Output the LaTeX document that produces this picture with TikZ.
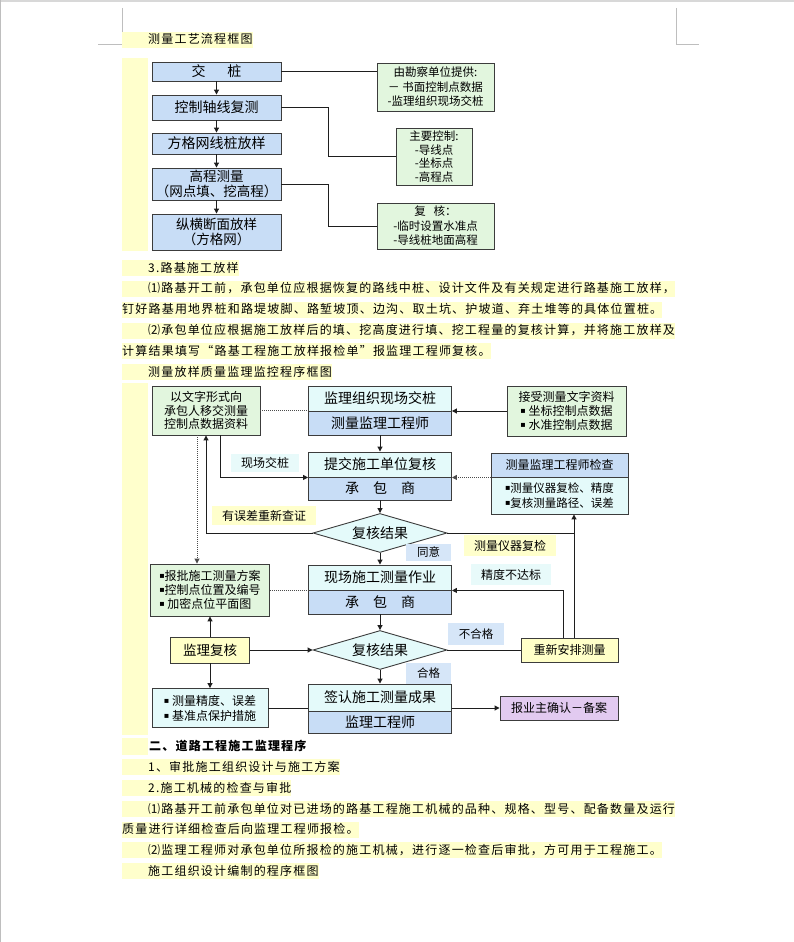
\documentclass[tikz,border=0pt]{standalone}
\usepackage{fontspec}
\setmainfont{Noto Sans CJK SC}
\newfontfamily\para[LetterSpace=10]{Noto Sans CJK SC}
\newfontfamily\sym{DejaVu Sans}
\usetikzlibrary{shapes.geometric,arrows.meta}
\definecolor{hlyel}{RGB}{255,255,204}
\definecolor{boxblue}{RGB}{200,221,246}
\definecolor{boxcyan}{RGB}{228,250,250}
\definecolor{boxgreen}{RGB}{226,246,222}
\definecolor{boxyel}{RGB}{255,255,200}
\definecolor{labblue}{RGB}{214,230,248}
\definecolor{labcyan}{RGB}{232,250,250}
\definecolor{boxpurple}{RGB}{226,202,240}
\definecolor{edge}{RGB}{60,60,60}
\definecolor{wire}{RGB}{30,30,30}
\definecolor{pagegray}{RGB}{190,190,190}
\newcommand{\bul}{\raisebox{2pt}{\sym\fontsize{8}{8}\selectfont ▪}}

\begin{document}
\begin{tikzpicture}[x=1pt,y=-1pt,
    every node/.style={inner sep=0pt},
    wh/.style 2 args={minimum width=#1pt,minimum height=#2pt},
    hl/.style={anchor=west,fill=hlyel,inner ysep=1pt,text height=11pt,text depth=3pt,font=\para\fontsize{12}{14}\selectfont},
    box/.style={draw=edge,line width=0.9pt,align=center},
    bluebox/.style={box,fill=boxblue,font=\fontsize{14}{15}\selectfont},
    cyanbox/.style={box,fill=boxcyan,font=\fontsize{14}{15}\selectfont},
    greenbox/.style={box,fill=boxgreen,font=\fontsize{12}{13.8}\selectfont},
    dia/.style={diamond,draw=edge,line width=0.9pt,fill=boxcyan,aspect=3.4,minimum width=134pt,minimum height=39pt,font=\fontsize{14}{14}\selectfont},
    lab/.style={font=\fontsize{12}{12}\selectfont},
    ln/.style={draw=wire,line width=1pt},
    arr/.style={ln,-{Triangle[length=5pt,width=5pt]}},
    dots/.style={draw=wire!80,line width=0.9pt,dash pattern=on 1pt off 1pt}]
    \useasboundingbox (0,0) rectangle (794,942);
    % page frame
    \draw[pagegray!60,line width=2pt] (0,1) -- (794,1);
    \draw[pagegray,line width=1.2pt] (0.6,0) -- (0.6,942);
    \draw[pagegray,line width=0.8pt] (122,8) -- (122,44) -- (98,44);
    \draw[pagegray,line width=0.8pt] (676,8) -- (676,44) -- (699,44);

    % text above
    \node[hl] (t1) at (122,40) {\hspace*{26pt}测量工艺流程框图};
    \fill[hlyel] (122,58) rectangle (148,251);

    % flow 1
    \node[bluebox,wh={129}{19}] (jz) at (216.5,71.5) {交\hspace{22pt}桩};
    \node[bluebox,wh={129}{25}] (kz) at (216.5,107.5) {控制轴线复测};
    \node[bluebox,wh={129}{21}] (fg) at (216.5,143.5) {方格网线桩放样};
    \node[bluebox,wh={129}{32},font=\fontsize{13.5}{14.5}\selectfont] (gc) at (216.5,184) {高程测量\\（网点填、挖高程）};
    \node[bluebox,wh={129}{36},font=\fontsize{13.5}{15.5}\selectfont] (zh) at (216.5,232) {纵横断面放样\\（方格网）};
    \node[greenbox,wh={117}{48},font=\fontsize{11.5}{14.5}\selectfont] (kc) at (435.5,87) {由勘察单位提供:\\－ 书面控制点数据\\-监理组织现场交桩};
    \node[greenbox,wh={76}{57},font=\fontsize{11.5}{13.5}\selectfont] (zy) at (434,156.5) {主要控制:\\-导线点\\-坐标点\\-高程点};
    \node[greenbox,wh={117}{46},font=\fontsize{11.5}{14.5}\selectfont] (fh) at (435.5,226) {复\hspace{8pt}核：\\-临时设置水准点\\-导线桩地面高程};
    \foreach \a/\b in {jz/kz,kz/fg,fg/gc,gc/zh}
        \draw[arr] (\a) -- (\b);
    \draw[ln] (jz.east) -- (jz.east -| kc.west);
    \draw[ln] (kz.east) -- ++(47,0) |- (zy.west);
    \draw[ln] (gc.east) -- ++(47,0) |- (fh.west);

    % text between
    \node[hl] (p1) at (122,268) {\hspace*{26pt}3.路基施工放样};
    \node[hl] (p2) at (122,288.7) {\hspace*{26pt}⑴路基开工前，承包单位应根据恢复的路线中桩、设计文件及有关规定进行路基施工放样，};
    \node[hl] (p3) at (122,309.5) {钉好路基用地界桩和路堤坡脚、路堑坡顶、边沟、取土坑、护坡道、弃土堆等的具体位置桩。};
    \node[hl] (p4) at (122,330.5) {\hspace*{26pt}⑵承包单位应根据施工放样后的填、挖高度进行填、挖工程量的复核计算，并将施工放样及};
    \node[hl] (p5) at (122,351.3) {计算结果填写“路基工程施工放样报检单”报监理工程师复核。};
    \node[hl] (p6) at (122,372) {\hspace*{26pt}测量放样质量监理监控程序框图};
    \fill[hlyel] (122,383) rectangle (148,735);

    % flow 2
    \node[greenbox,wh={108}{49}] (A) at (206,410.5) {以文字形式向\\承包人移交测量\\控制点数据资料};
    \node[cyanbox,wh={143}{25}] (B1) at (380,398.5) {监理组织现场交桩};
    \node[bluebox,wh={143}{24}] (B2) at (380,423) {测量监理工程师};
    \node[greenbox,wh={119}{50}] (C) at (566.5,411) {接受测量文字资料\\\bul\ 坐标控制点数据\\\bul\ 水准控制点数据};
    \node[cyanbox,wh={143}{25}] (D1) at (380,464.5) {提交施工单位复核};
    \node[bluebox,wh={143}{23}] (D2) at (380,488.5) {承\hspace{14pt}包\hspace{14pt}商};
    \node[bluebox,wh={137}{24},font=\fontsize{12}{13}\selectfont] (E1) at (559.5,465) {测量监理工程师检查};
    \node[box,fill=boxcyan,wh={137}{37},align=left,font=\fontsize{11.5}{15}\selectfont] (E2) at (559.5,495.5) {\bul 测量仪器复检、精度\\\bul 复核测量路径、误差};
    \node[dia] (d1) at (380,533) {复核结果};
    \node[greenbox,wh={119}{52},align=left] (F) at (210,590) {\bul 报批施工测量方案\\\bul 控制点位置及编号\\\bul\ 加密点位平面图};
    \node[cyanbox,wh={143}{25}] (G1) at (380,577.5) {现场施工测量作业};
    \node[bluebox,wh={143}{24}] (G2) at (380,602) {承\hspace{14pt}包\hspace{14pt}商};
    \node[box,fill=boxyel,wh={79}{26},font=\fontsize{13.5}{14}\selectfont] (H) at (210,650) {监理复核};
    \node[dia] (d2) at (380,650) {复核结果};
    \node[box,fill=boxyel,wh={97}{24},font=\fontsize{12}{13}\selectfont] (I) at (569.5,650) {重新安排测量};
    \node[box,fill=boxcyan,wh={116}{39},align=left,font=\fontsize{12}{15}\selectfont] (J) at (210,708) {\bul\ 测量精度、误差\\\bul\ 基准点保护措施};
    \node[cyanbox,wh={143}{27}] (K1) at (380,697.5) {签认施工测量成果};
    \node[bluebox,wh={143}{22}] (K2) at (380,722) {监理工程师};
    \node[box,fill=boxpurple,wh={118}{24},font=\fontsize{12}{13}\selectfont] (L) at (559,708) {报业主确认－备案};

    % labels
    \node[lab,fill=labcyan,wh={68}{18}] (xj) at (265,463) {现场交桩};
    \node[lab,fill=hlyel,wh={104}{19}] (wc) at (264,515.5) {有误差重新查证};
    \node[lab,fill=labblue,wh={45}{17},font=\fontsize{11.5}{12}\selectfont] (ty) at (428.5,552.5) {同意};
    \node[lab,fill=hlyel,wh={92}{21}] (yq) at (510,545.5) {测量仪器复检};
    \node[lab,fill=labcyan,wh={80}{21}] (jd) at (511,574.5) {精度不达标};
    \node[lab,fill=labblue,wh={56}{22},font=\fontsize{11.5}{12}\selectfont] (bh) at (476,634) {不合格};
    \node[lab,fill=labblue,wh={45}{21},font=\fontsize{11.5}{12}\selectfont] (hg) at (428.5,673.5) {合格};

    % connectors
    \draw[dots] (A.east) -- (A.east -| B1.west);
    \draw[arr] (C.west) -- (C.west -| B1.east);
    \draw[arr] (B2) -- (D1);
    \draw[arr] ([xshift=14pt]A.south) |- (D1.south west);
    \draw[dots,-{Triangle[length=5pt,width=5pt]}] (E1.south west) -- (E1.south west -| D1.east);
    \draw[arr] (D2) -- (d1);
    \draw[arr] (d1.west) -| (A.south);
    \coordinate (a1) at ([xshift=-9pt]A.south);
    \draw[dots,-{Triangle[length=5pt,width=5pt]}] (a1) -- (a1 |- F.north);
    \coordinate (r1) at ([xshift=4.5pt]I.north);
    \coordinate (r2) at ([xshift=-6pt]I.north);
    \draw[arr] (r1) -- (r1 |- E2.south);
    \draw[ln] (d1.east) -- (d1.east -| r1);
    \draw[arr] (d1) -- (G1);
    \draw[dots] (F.east) -- (F.east -| G1.west);
    \draw[arr] (r2) |- (G1.south east);
    \draw[arr] (G2) -- (d2);
    \draw[arr] (H.east) -- (d2.west);
    \draw[ln] (d2.east) -- (I.west);
    \draw[arr] (H) -- (F);
    \draw[arr] (H) -- (J);
    \draw[arr] (d2) -- (K1);
    \draw[ln] (J.east) -- (J.east -| K1.west);
    \draw[arr] (L.west -| K1.east) -- (L.west);

    % text below
    \fill[hlyel] (122,738) rectangle (148,755);
    \node[anchor=west,font=\para\fontsize{12}{14}\selectfont\bfseries] (q1) at (149,746) {二、道路工程施工监理程序};
    \node[hl] (q2) at (122,767) {\hspace*{26pt}1、审批施工组织设计与施工方案};
    \node[hl] (q3) at (122,788) {\hspace*{26pt}2.施工机械的检查与审批};
    \node[hl] (q4) at (122,809) {\hspace*{26pt}⑴路基开工前承包单位对已进场的路基工程施工机械的品种、规格、型号、配备数量及运行};
    \node[hl] (q5) at (122,829.5) {质量进行详细检查后向监理工程师报检。};
    \node[hl] (q6) at (122,850) {\hspace*{26pt}⑵监理工程师对承包单位所报检的施工机械，进行逐一检查后审批，方可用于工程施工。};
    \node[hl] (q7) at (122,871) {\hspace*{26pt}施工组织设计编制的程序框图};
\end{tikzpicture}
\end{document}
